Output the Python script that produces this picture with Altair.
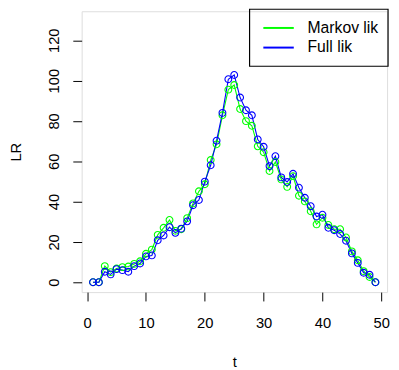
import altair as alt
import pandas as pd

t = list(range(1, 50))
full_lik = [0, 0, 5.2, 3.9, 6.5, 6.0, 5.2, 8.0, 9.3, 12.8,
            13.3, 20.8, 23.2, 27.3, 24.5, 26.6, 30.2, 38.2, 40.8, 49.9,
            58.0, 70.2, 84.0, 100.7, 102.8, 91.6, 85.3, 82.8, 70.8, 67.2,
            57.6, 62.5, 52.0, 49.7, 53.8, 46.9, 41.9, 37.7, 32.6, 33.5,
            27.0, 25.8, 23.9, 20.6, 14.3, 9.6, 4.7, 3.7, 0]
markov_lik = [0, 0, 8.0, 5.0, 6.8, 7.5, 7.8, 9.1, 10.4, 14.1,
              16.2, 23.5, 27.0, 30.9, 25.5, 26.3, 31.8, 39.1, 45.1, 48.6,
              60.6, 68.4, 82.8, 95.5, 97.8, 85.9, 79.9, 77.6, 67.4, 64.5,
              55.2, 59.6, 51.0, 47.3, 52.6, 42.9, 40.1, 35.2, 28.7, 32.0,
              28.4, 26.3, 26.3, 22.2, 15.3, 10.9, 5.5, 2.6, 0]
series_names = ["Markov lik", "Full lik"]
series_colors = ["#00ff00", "#0000ff"]
x_ticks = [0, 10, 20, 30, 40, 50]
y_ticks = [0, 20, 40, 60, 80, 100, 120]

df = pd.concat([
    pd.DataFrame({"t": t, "LR": markov_lik, "series": series_names[0], "ord": 0}),
    pd.DataFrame({"t": t, "LR": full_lik, "series": series_names[1], "ord": 1}),
])
legend_df = pd.DataFrame({"series": series_names, "row": list(range(len(series_names)))})

FONT = "Liberation Sans"

xscale = alt.Scale(domain=[-0.93, 50.98], nice=False, zero=False)
yscale = alt.Scale(domain=[-4.9, 134.4], nice=False, zero=False)
cscale = alt.Scale(domain=series_names, range=series_colors)

xaxis = alt.Axis(values=x_ticks, tickSize=9, domain=False, grid=False,
                 labelFontSize=15, labelFont=FONT, labelColor="black",
                 labelPadding=15, tickColor="black", labelFlush=False,
                 title="t", titleFont=FONT, titleFontSize=15,
                 titleFontWeight="normal", titleColor="black",
                 titleBaseline="middle", titleY=71)
yaxis = alt.Axis(values=y_ticks, tickSize=9, domain=False, grid=False,
                 labelFontSize=15, labelFont=FONT, labelColor="black",
                 labelAngle=270, labelAlign="center", labelBaseline="alphabetic",
                 labelPadding=15, tickColor="black", labelFlush=False,
                 title="LR", titleFont=FONT, titleFontSize=15,
                 titleFontWeight="normal", titleColor="black",
                 titleAngle=270, titleBaseline="middle", titleAlign="center",
                 titleX=-67)

base = alt.Chart(df).encode(
    x=alt.X("t:Q", scale=xscale, axis=xaxis),
    y=alt.Y("LR:Q", scale=yscale, axis=yaxis),
    color=alt.Color("series:N", scale=cscale, legend=None, sort=series_names),
    detail="series:N",
    order=alt.Order("ord:Q"),
)

lines = base.mark_line(strokeWidth=1.1)
points = base.mark_point(shape="circle", size=48, strokeWidth=1.1, filled=False, opacity=1)

# legend (drawn as a guide in the top-right corner)
leg = alt.Chart(legend_df).transform_calculate(ly="17 + 20 * datum.row")
leg_box = alt.Chart(legend_df).transform_filter("datum.row == 0").mark_rect(
    fillOpacity=0, stroke="black", strokeWidth=1.2
).encode(x=alt.value(171), x2=alt.value(312), y=alt.value(-2), y2=alt.value(56))
leg_lines = leg.mark_rule(strokeWidth=2).encode(
    x=alt.value(185), x2=alt.value(216),
    y=alt.Y("ly:Q", scale=None),
    color=alt.Color("series:N", scale=cscale, legend=None),
)
leg_text = leg.mark_text(align="left", baseline="middle", fontSize=16,
                         font=FONT, color="black").encode(
    x=alt.value(230),
    y=alt.Y("ly:Q", scale=None),
    text="series:N",
)

chart = alt.layer(lines, points, leg_box, leg_lines, leg_text).properties(
    width=311, height=286,
    autosize=alt.AutoSizeParams(type="none"),
    padding={"left": 75, "top": 0, "right": 4, "bottom": 76},
).configure_view(stroke="black", strokeWidth=1.2).configure(background="white")

chart.save("out.html", embed_options={"renderer": "svg", "actions": False})
